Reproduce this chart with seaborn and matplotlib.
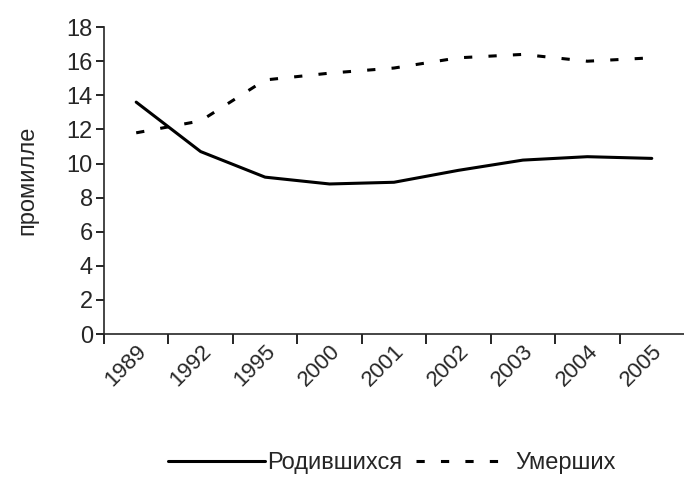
import numpy as np
import pandas as pd
import matplotlib
matplotlib.use("Agg")
import matplotlib.pyplot as plt
import seaborn as sns

years = ["1989", "1992", "1995", "2000", "2001", "2002", "2003", "2004", "2005"]
born = [13.6, 10.7, 9.2, 8.8, 8.9, 9.6, 10.2, 10.4, 10.3]
died = [11.8, 12.5, 14.9, 15.3, 15.6, 16.2, 16.4, 16.0, 16.2]
series_names = ["Родившихся", "Умерших"]

df = pd.DataFrame({"year": years * 2,
                   "value": born + died,
                   "series": [series_names[0]] * len(years) + [series_names[1]] * len(years)})

sns.set_style("ticks")
plt.rcParams['font.family'] = ['Liberation Sans', 'DejaVu Sans']

fig = plt.figure(figsize=(6.84, 4.93), dpi=100)
ax = fig.add_axes([0.152, 0.3225, 0.848, 0.6225])

sns.lineplot(data=df, x="year", y="value", hue="series", style="series",
             palette=["black", "black"], dashes={series_names[0]: "", series_names[1]: (2.7, 5.3)},
             linewidth=2.2, ax=ax, sort=False)

ax.set_xlim(-0.5, len(years) - 0.5)
ax.set_ylim(0, 18)
ax.set_yticks(range(0, 19, 2))
ax.tick_params(axis='y', labelsize=17, length=6, width=1.2, color='black', pad=2)

# ticks between categories, labels at centers
ax.set_xticks(np.arange(-0.5, len(years) - 0.5, 1))
ax.set_xticklabels([])
ax.set_xticks(np.arange(len(years)), minor=True)
ax.set_xticklabels(years, minor=True, rotation=45, ha='right', rotation_mode='anchor', fontsize=16)
ax.tick_params(axis='x', which='major', length=7, width=1.2, color='black')
ax.tick_params(axis='x', which='minor', length=0, pad=5)

ax.set_xlabel("")
ax.set_ylabel("промилле", fontsize=17, labelpad=20)
for s in ['top', 'right']:
    ax.spines[s].set_visible(False)
ax.spines['left'].set_linewidth(1.2)
ax.spines['bottom'].set_linewidth(1.2)

handles, labels = ax.get_legend_handles_labels()
ax.legend(handles, labels, loc='center', bbox_to_anchor=(0.573, 0.06), bbox_transform=fig.transFigure,
          ncol=2, frameon=False, fontsize=17, handlelength=4.1, handletextpad=0.1, columnspacing=0.6)

fig.savefig("out.png", dpi=100)
